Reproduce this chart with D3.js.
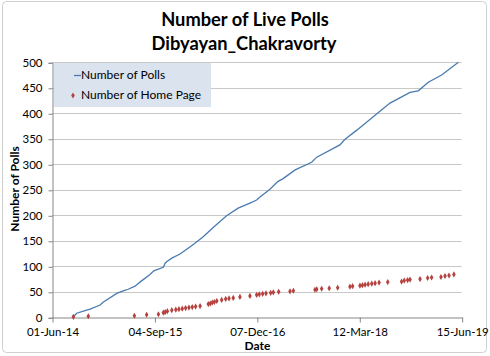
<!DOCTYPE html>
<html><head><meta charset="utf-8">
<script src="https://cdn.jsdelivr.net/npm/d3@7"></script>
<style>
html,body{margin:0;padding:0;background:#fff;}
svg{display:block;}
text{font-family:Lato,"Open Sans",sans-serif;fill:#000;}
</style></head>
<body>
<svg id="chart" width="490" height="356"></svg>
<script>
// ---- data ----
const pollDates = ["2014-09-05","2014-09-20","2014-10-20","2014-11-19","2015-01-03","2015-01-18","2015-03-19","2015-04-17","2015-05-09","2015-06-09","2015-07-01","2015-08-15","2015-09-01","2015-10-14","2015-10-22","2015-10-29","2015-11-21","2015-12-28","2016-02-10","2016-03-04","2016-04-10","2016-05-25","2016-07-24","2016-09-14","2016-09-30","2016-11-06","2016-12-06","2016-12-21","2017-02-04","2017-03-11","2017-04-04","2017-05-28","2017-08-10","2017-09-02","2017-12-15","2018-01-07","2018-03-01","2018-05-30","2018-07-28","2018-10-26","2018-12-02","2019-01-16","2019-03-17","2019-05-31"];
const pollCounts = [1,8,12,16,24,30,47,52,55,61,69,84,91,98,106,109,116,124,138,145,158,176,199,214,217,224,230,236,251,266,272,289,304,314,338,349,367,399,420,441,444,461,475,500];

const homeDates = ["2014-09-05","2014-11-11","2015-06-06","2015-07-31","2015-09-22","2015-10-14","2015-10-22","2015-11-01","2015-11-21","2015-12-09","2015-12-23","2016-01-07","2016-01-22","2016-02-06","2016-02-21","2016-03-07","2016-03-27","2016-05-03","2016-05-12","2016-05-21","2016-05-30","2016-06-10","2016-07-02","2016-07-20","2016-08-04","2016-08-23","2016-09-22","2016-11-06","2016-12-06","2016-12-18","2017-01-02","2017-01-17","2017-02-07","2017-02-19","2017-03-15","2017-05-05","2017-05-20","2017-08-25","2017-09-02","2017-09-24","2017-10-28","2017-12-05","2018-01-29","2018-02-10","2018-03-15","2018-03-26","2018-04-07","2018-04-21","2018-05-07","2018-05-22","2018-06-09","2018-07-18","2018-09-18","2018-09-30","2018-10-15","2018-10-26","2018-12-10","2019-01-13","2019-01-31","2019-03-14","2019-04-01","2019-04-19","2019-05-11"];
const homeCounts = [1,2,3,5,6,9,10,12,14,15,16,17,18,19,20,21,22,26,27,29,30,32,34,36,37,38,40,42,44,45,46,47,48,49,50,51,52,54,55,56,57,58,60,61,62,63,64,65,66,67,68,69,70,72,73,74,75,77,78,79,81,82,84];

const xTickLabels = ["01-Jun-14","04-Sep-15","07-Dec-16","12-Mar-18","15-Jun-19"];
const yTicks = [0,50,100,150,200,250,300,350,400,450,500];
const titleLines = ["Number of Live Polls","Dibyayan_Chakravorty"];
const seriesNames = ["Number of Polls","Number of Home Page"];

// ---- setup ----
const parseD = d3.utcParse("%Y-%m-%d");
const parseTick = d3.utcParse("%d-%b-%y");
const tickDates = xTickLabels.map(parseTick);
const polls = pollDates.map((d,i)=>({date:parseD(d), v:pollCounts[i]}));
const home = homeDates.map((d,i)=>({date:parseD(d), v:homeCounts[i]}));

const L=52, R=461.7, T=62.3, B=317.3;
const x = d3.scaleUtc().domain([tickDates[0], tickDates[tickDates.length-1]]).range([L,R]);
const y = d3.scaleLinear().domain([0,500]).range([B,T]);

const svg = d3.select("#chart");
svg.append("rect").attr("x",2.5).attr("y",1.5).attr("width",484).attr("height",351)
  .attr("rx",4).attr("fill","#fff").attr("stroke","#cfcfcf");

// gridlines
svg.append("g").selectAll("line").data(yTicks.filter(d=>d>0)).join("line")
  .attr("x1",L).attr("x2",R).attr("y1",d=>Math.round(y(d))+0.5).attr("y2",d=>Math.round(y(d))+0.5)
  .attr("stroke","#c8c8c8").attr("stroke-width",1);

// y axis
const yAxis = d3.axisLeft(y).tickValues(yTicks).tickSize(4).tickPadding(6);
const gy = svg.append("g").attr("transform",`translate(${L+0.5},0.5)`).call(yAxis);
gy.select(".domain").attr("stroke","#868686");
gy.selectAll(".tick line").attr("stroke","#868686");
gy.selectAll(".tick text").attr("font-family","Lato,sans-serif").attr("font-size","11.5px").attr("fill","#333");

// x axis
const xAxis = d3.axisBottom(x).tickValues(tickDates).tickFormat((d,i)=>xTickLabels[i]).tickSize(5).tickSizeOuter(0).tickPadding(5);
const gx = svg.append("g").attr("transform",`translate(0.5,${Math.round(B)+0.5})`).call(xAxis);
gx.select(".domain").attr("stroke","#868686");
gx.selectAll(".tick line").attr("stroke","#868686");
gx.selectAll(".tick text").attr("font-family","Lato,sans-serif").attr("font-size","11.5px").attr("fill","#333");

// line
const line = d3.line().x(d=>x(d.date)).y(d=>y(d.v));
svg.append("path").datum(polls).attr("d",line).attr("fill","none")
  .attr("stroke","#4a7bb0").attr("stroke-width",1.3);

// markers
const diamond = d3.symbol().type(d3.symbolDiamond).size(11);
svg.append("g").selectAll("path").data(home).join("path")
  .attr("transform",d=>`translate(${x(d.date)},${y(d.v)})`)
  .attr("d",diamond).attr("fill","#b5423f");

// titles
svg.append("text").attr("x",245).attr("y",25.5).attr("text-anchor","middle")
  .attr("font-size","18.3px").attr("font-weight","bold").text(titleLines[0]);
svg.append("text").attr("x",244).attr("y",49.5).attr("text-anchor","middle")
  .attr("font-size","18.3px").attr("font-weight","bold").text(titleLines[1]);

svg.append("text").attr("transform","translate(18.5,189) rotate(-90)").attr("text-anchor","middle")
  .attr("font-size","12px").attr("font-weight","bold").text("Number of Polls");
svg.append("text").attr("x",257.5).attr("y",349.5).attr("text-anchor","middle")
  .attr("font-size","12px").attr("font-weight","bold").text("Date");

// legend
const lg = svg.append("g");
lg.append("rect").attr("x",54).attr("y",63).attr("width",157).attr("height",44).attr("fill","#dbe3ef");
lg.append("line").attr("x1",74).attr("x2",81).attr("y1",75.5).attr("y2",75.5).attr("stroke","#4a7bb0").attr("stroke-width",1.3);
lg.append("path").attr("transform","translate(73,95.5)").attr("d",diamond).attr("fill","#b5423f");
lg.append("text").attr("x",81).attr("y",79).attr("font-size","12px").attr("fill","#222").text(seriesNames[0]);
lg.append("text").attr("x",81).attr("y",99).attr("font-size","12px").attr("fill","#222").text(seriesNames[1]);
</script>
</body></html>
